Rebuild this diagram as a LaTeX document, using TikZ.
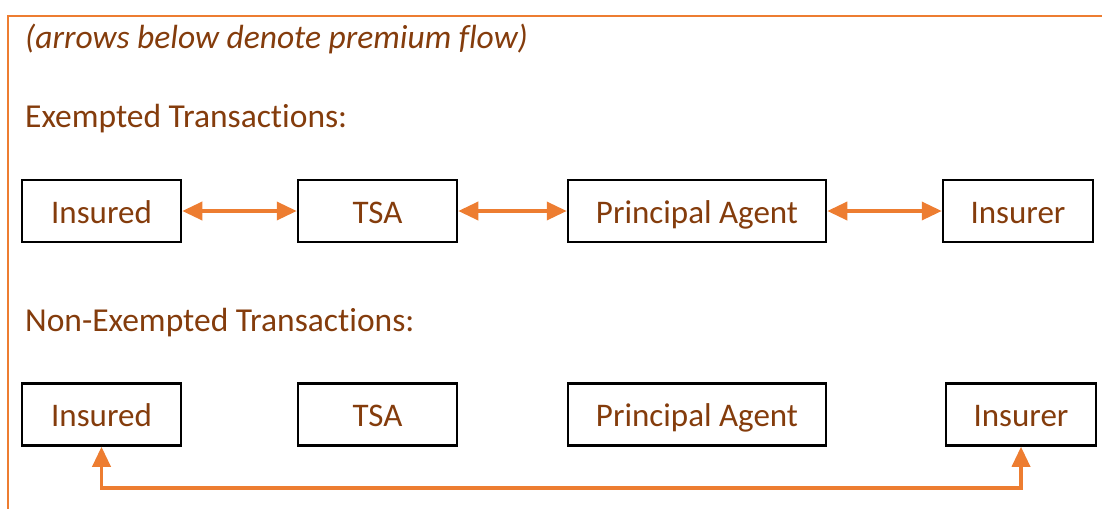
\documentclass[tikz,border=0pt]{standalone}
\usepackage{fontspec}
\setmainfont{Carlito}[Ligatures=NoCommon]
\usepackage{tikz}
\usetikzlibrary{positioning, arrows.meta}
\usepackage{xcolor}

\definecolor{flow}{HTML}{ED7D31}
\definecolor{note}{HTML}{843C0C}

\tikzset{
    party/.style={draw=black, line width=2.5pt, minimum height=62pt, text=note,
        font=\fontsize{33}{38}\selectfont, text height=27pt, text depth=3pt},
    premium/.style={flow, line width=3.5pt, {Triangle[length=20pt,width=18pt]}-{Triangle[length=20pt,width=18pt]}},
    heading/.style={anchor=west, text=note, font=\fontsize{33.5}{38}\selectfont, inner sep=0pt}
}

\begin{document}
\begin{tikzpicture}[x=1pt, y=-1pt]
    \useasboundingbox (0,0) rectangle (1102,509);
    % frame
    \draw[flow, line width=2pt] (1102,16) -- (8,16) -- (8,509);

    \node[heading] (note) at (25,39) {\itshape (arrows below denote premium flow)};
    \node[heading] (exempt) at (25,119) {Exempted Transactions:};
    \node[heading] (nonexempt) at (25,323) {Non-Exempted Transactions:};

    % exempted row
    \node[party, minimum width=159pt] (ins1) at (101.5,211) {Insured};
    \node[party, minimum width=159pt] (tsa1) at (377.5,211) {TSA};
    \node[party, minimum width=258pt] (pa1) at (697,211) {Principal Agent};
    \node[party, minimum width=150pt] (ir1) at (1018,211) {Insurer};
    \draw[premium] (ins1) -- (tsa1);
    \draw[premium] (tsa1) -- (pa1);
    \draw[premium] (pa1) -- (ir1);

    % non-exempted row
    \node[party, minimum width=159pt] (ins2) at (101.5,414.5) {Insured};
    \node[party, minimum width=159pt] (tsa2) at (377.5,414.5) {TSA};
    \node[party, minimum width=258pt] (pa2) at (697,414.5) {Principal Agent};
    \node[party, minimum width=150pt] (ir2) at (1021,414.5) {Insurer};
    \draw[premium] (ins2.south) -- ++(0,41) -| (ir2.south);
\end{tikzpicture}
\end{document}
